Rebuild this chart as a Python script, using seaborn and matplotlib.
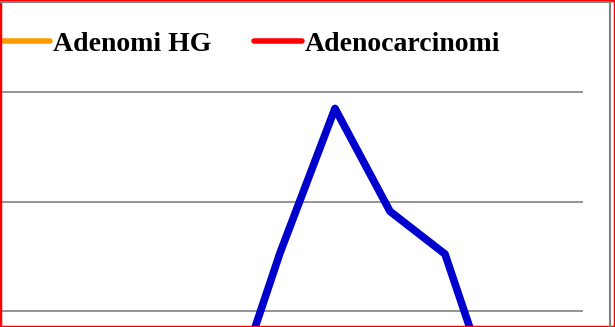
import matplotlib
matplotlib.use("Agg")
import matplotlib.pyplot as plt
import seaborn as sns
import pandas as pd
from matplotlib.lines import Line2D
from matplotlib.patches import Rectangle

sns.set_theme(style="white")
plt.rcParams['font.family'] = ['Liberation Serif', 'DejaVu Serif']
plt.rcParams['text.color'] = 'black'

# Data (categories beyond the visible window are estimates below the crop)
categories = list(range(11))
adenomi_lg = [0.0, 0.0, 0.0, 0.0, 0.3, 15.3, 28.5, 19.1, 15.2, 0.3, 0.0]
adenomi_hg = [0.0, 0.0, 0.5, 1.0, 1.5, 2.0, 2.5, 2.0, 1.5, 1.0, 0.5]
adenocarcinomi = [0.0, 0.0, 0.2, 0.5, 0.8, 1.0, 1.2, 1.0, 0.8, 0.5, 0.2]
legend_labels = ["Adenomi HG", "Adenocarcinomi"]

df = pd.DataFrame({"cat": categories, "lg": adenomi_lg, "hg": adenomi_hg, "ca": adenocarcinomi})

W, H = 615, 327
fig = plt.figure(figsize=(W / 100, H / 100), dpi=100)
# axes extends beyond the figure (crop of a larger chart)
ax_left, ax_right = -22.5, 582.5
ax_top_px, ax_bot_px = 70.1, 420.5
ax = fig.add_axes([ax_left / W, (H - ax_bot_px) / H,
                   (ax_right - ax_left) / W, (ax_bot_px - ax_top_px) / H])

sns.lineplot(data=df, x="cat", y="hg", ax=ax, color="#FF9900", linewidth=5.5)
sns.lineplot(data=df, x="cat", y="ca", ax=ax, color="#FF0000", linewidth=5.5)
sns.lineplot(data=df, x="cat", y="lg", ax=ax, color="#0000CC", linewidth=5.5)

ax.set_xlim(-0.5, 10.5)
ax.set_ylim(0, 32)
ax.set_yticks([10, 20, 30])
ax.yaxis.grid(True, color="#8c8c8c", linewidth=1.3)
ax.xaxis.grid(False)
ax.set_axisbelow(True)
for s in ax.spines.values():
    s.set_visible(False)
ax.set_xticks([])
ax.tick_params(left=False, labelleft=False)
ax.set_xlabel("")
ax.set_ylabel("")

handles = [Line2D([], [], color="#FF9900", linewidth=4),
           Line2D([], [], color="#FF0000", linewidth=4)]
fig.legend(handles, legend_labels, ncol=2,
           loc="center left", bbox_to_anchor=(3 / W, 1 - 44 / H),
           frameon=False, borderpad=0, borderaxespad=0,
           handlelength=1.7, handletextpad=0.1, columnspacing=1.55,
           labelcolor="black",
           prop={"family": "Liberation Serif", "weight": "bold", "size": 20})

# frame lines
fig.patches.append(Rectangle((0, 0), 1, 1, transform=fig.transFigure, fill=False,
                             edgecolor="#FF0000", linewidth=2.5, zorder=10))
fig.lines.append(Line2D([0, 611 / W], [1 - 2 / H, 1 - 2 / H], transform=fig.transFigure,
                        color="#808080", linewidth=1.5, zorder=11))
fig.lines.append(Line2D([610 / W, 610 / W], [0, 1 - 2 / H], transform=fig.transFigure,
                        color="#808080", linewidth=1.5, zorder=11))

fig.savefig("out.png", dpi=100)
